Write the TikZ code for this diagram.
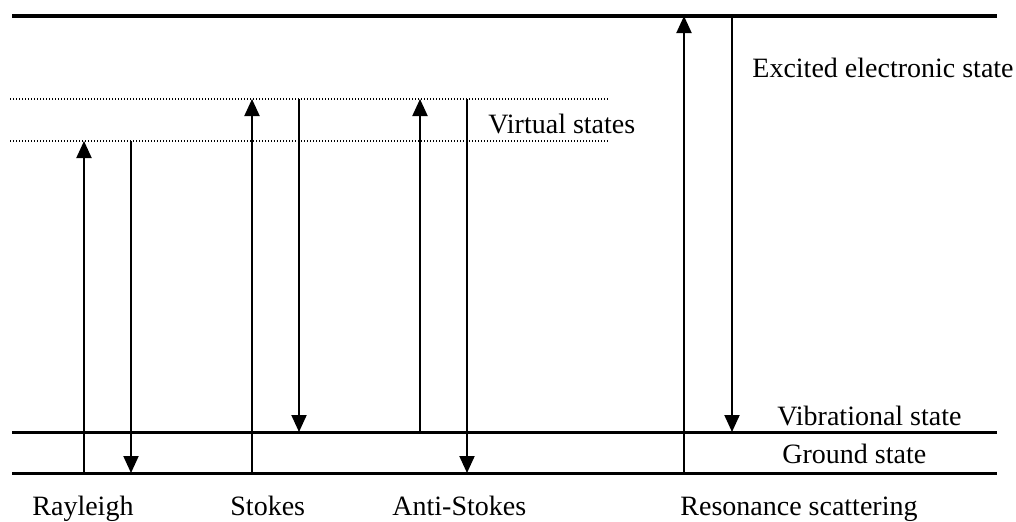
\documentclass[tikz,border=0pt]{standalone}
\usepackage{fontspec}
\setmainfont{Liberation Serif}
\usetikzlibrary{arrows.meta}
\begin{document}
\begin{tikzpicture}[x=0.5pt,y=-0.5pt,
  level/.style={line width=1.9pt},
  sublevel/.style={line width=1.5pt},
  virt/.style={line width=0.7pt, dash pattern=on 0.6pt off 0.9pt},
  trans/.style={line width=1pt, -{Triangle[width=7.5pt,length=8.5pt]}},
  lbl/.style={anchor=base west, inner sep=0pt, font=\fontsize{14}{16}\selectfont}]
\useasboundingbox (0,0) rectangle (1016,521);
% levels
\coordinate (topL) at (12,16); \coordinate (topR) at (997,16);
\coordinate (v1L) at (10,99); \coordinate (v1R) at (608,99);
\coordinate (v2L) at (10,141); \coordinate (v2R) at (608,141);
\coordinate (vibL) at (12,432); \coordinate (vibR) at (997,432);
\coordinate (gL) at (12,473); \coordinate (gR) at (997,473);
\draw[level] (topL) -- (topR);
\draw[virt] (v1L) -- (v1R);
\draw[virt] (v2L) -- (v2R);
\draw[sublevel] (vibL) -- (vibR);
\draw[sublevel] (gL) -- (gR);
% Rayleigh
\coordinate (ra0) at (84,473); \coordinate (ra1) at (84,141);
\coordinate (rb0) at (131,141); \coordinate (rb1) at (131,473);
\draw[trans] (ra0) -- (ra1);
\draw[trans] (rb0) -- (rb1);
% Stokes
\coordinate (sa0) at (252,473); \coordinate (sa1) at (252,99);
\coordinate (sb0) at (299,99); \coordinate (sb1) at (299,432);
\draw[trans] (sa0) -- (sa1);
\draw[trans] (sb0) -- (sb1);
% Anti-Stokes
\coordinate (aa0) at (420,432); \coordinate (aa1) at (420,99);
\coordinate (ab0) at (467,99); \coordinate (ab1) at (467,473);
\draw[trans] (aa0) -- (aa1);
\draw[trans] (ab0) -- (ab1);
% Resonance
\coordinate (za0) at (684,473); \coordinate (za1) at (684,16);
\coordinate (zb0) at (732,16); \coordinate (zb1) at (732,432);
\draw[trans] (za0) -- (za1);
\draw[trans] (zb0) -- (zb1);
% labels
\node[lbl] (exc) at (752,77) {Excited electronic state};
\node[lbl] (virtual) at (488,133) {Virtual states};
\node[lbl] (vib) at (777,425) {Vibrational state};
\node[lbl] (gnd) at (782,463) {Ground state};
\node[lbl] (ray) at (32,515) {Rayleigh};
\node[lbl] (sto) at (230,515) {Stokes};
\node[lbl] (anti) at (392,515) {Anti-Stokes};
\node[lbl] (res) at (680,515) {Resonance scattering};
\end{tikzpicture}
\end{document}
